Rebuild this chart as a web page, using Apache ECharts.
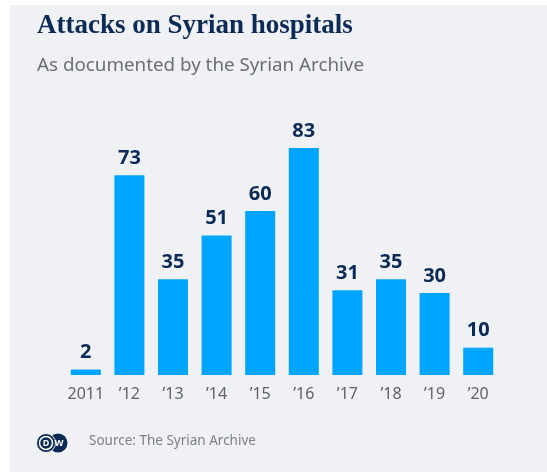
<!DOCTYPE html>
<html>
<head>
<meta charset="utf-8">
<script src="https://cdn.jsdelivr.net/npm/echarts@6/dist/echarts.min.js"></script>
<style>
  html, body { margin: 0; padding: 0; background: #ffffff; }
  #chart { width: 547px; height: 472px; }
</style>
</head>
<body>
<div id="chart"></div>
<script>
// Attacks on hospitals per year
const years = ['2011', '\u201912', '\u201913', '\u201914', '\u201915', '\u201916', '\u201917', '\u201918', '\u201919', '\u201920'];
const attacks = [2, 73, 35, 51, 60, 83, 31, 35, 30, 10];

const titleText = 'Attacks on Syrian hospitals';
const subtitleText = 'As documented by the Syrian Archive';
const sourceText = 'Source: The Syrian Archive';

const navy = '#0b2a55';
const barBlue = '#00a5ff';

const chart = echarts.init(document.getElementById('chart'), null, { renderer: 'canvas' });

chart.setOption({
  backgroundColor: '#ffffff',
  animation: false,
  graphic: [
    { type: 'rect', left: 10, top: 5, shape: { width: 537, height: 467 }, style: { fill: '#f0f1f4' }, z: -10 },
    { type: 'text', left: 37, top: 13, style: { text: titleText, font: 'bold 27px "Liberation Serif", "DejaVu Serif", serif', fill: navy } },
    { type: 'text', left: 37, top: 56, style: { text: subtitleText, font: '18.8px "Noto Sans", "Open Sans", sans-serif', fill: '#6b6e73' } },
    // DW logo
    { type: 'circle', shape: { cx: 58, cy: 443, r: 9.5 }, style: { fill: navy } },
    { type: 'circle', shape: { cx: 46, cy: 443, r: 9.5 }, style: { fill: navy, stroke: '#f0f1f4', lineWidth: 1 } },
    { type: 'circle', shape: { cx: 46, cy: 443, r: 6.5 }, style: { fill: 'none', stroke: '#ffffff', lineWidth: 1.5 } },
    { type: 'text', x: 46, y: 443, style: { text: 'D', font: 'bold 9px "Noto Sans", sans-serif', fill: '#ffffff', align: 'center', verticalAlign: 'middle' } },
    { type: 'text', x: 59, y: 443, style: { text: 'W', font: 'bold 9px "Noto Sans", sans-serif', fill: '#ffffff', align: 'center', verticalAlign: 'middle' } },
    { type: 'text', left: 89, top: 434, style: { text: sourceText, font: '13.5px "Noto Sans", "Open Sans", sans-serif', fill: '#7d8087' } }
  ],
  grid: { left: 64, right: 47, top: 148, bottom: 97, containLabel: false },
  xAxis: {
    type: 'category',
    data: years,
    axisLine: { show: false },
    axisTick: { show: false },
    axisLabel: { interval: 0, color: '#5f6268', fontSize: 16, fontFamily: '"Noto Sans", "Open Sans", sans-serif', margin: 11 }
  },
  yAxis: {
    type: 'value',
    min: 0,
    max: 83,
    show: false,
    splitLine: { show: false }
  },
  series: [{
    type: 'bar',
    data: attacks,
    barWidth: 30,
    itemStyle: { color: barBlue },
    label: {
      show: true,
      position: 'top',
      distance: 7,
      color: navy,
      fontSize: 20,
      fontWeight: 'bold',
      fontFamily: '"Noto Sans", "Open Sans", sans-serif'
    }
  }]
});
</script>
</body>
</html>
